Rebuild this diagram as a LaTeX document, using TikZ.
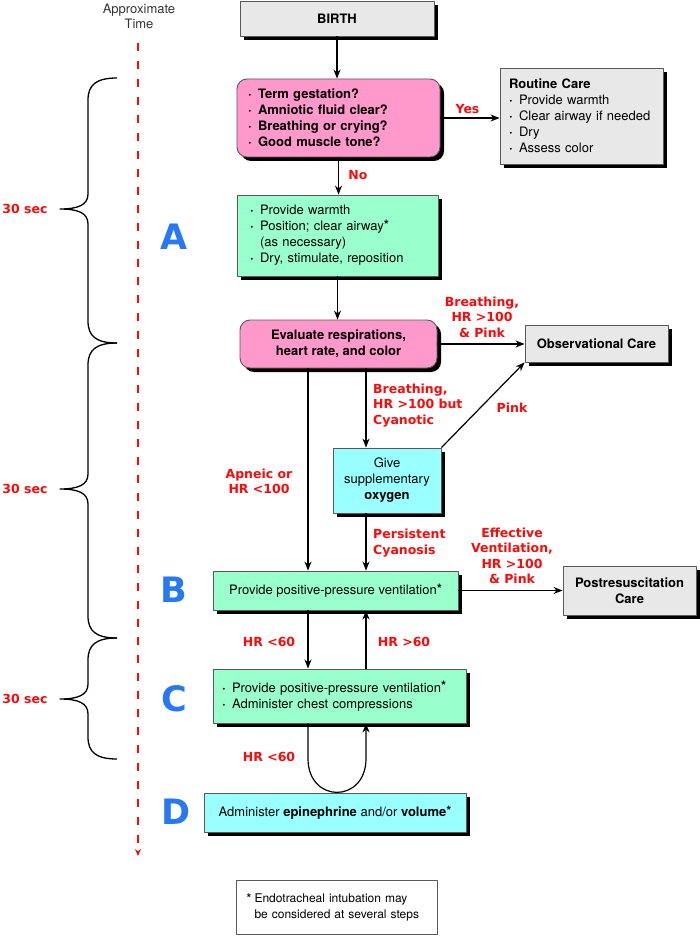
\documentclass[tikz,border=0pt]{standalone}
\usepackage{fontspec}
\setmainfont{TeX Gyre Heros}
\newfontfamily\heavyfont{DejaVu Sans}
\usepackage{xcolor}
\usepackage{tikz}
\usetikzlibrary{arrows.meta,shadows}

\definecolor{qpink}{RGB}{255,153,204}
\definecolor{stepgreen}{RGB}{153,255,204}
\definecolor{oxcyan}{RGB}{153,255,255}
\definecolor{cardgray}{RGB}{232,232,232}
\definecolor{labred}{RGB}{250,10,10}
\definecolor{letblue}{RGB}{40,120,245}

\newcommand{\bodysize}{\fontsize{13}{16}\selectfont}
\newcommand{\bdot}{\makebox[10pt][l]{\textbf{\textperiodcentered}}}
\newcommand{\fnmark}{\raisebox{1.5pt}{\textbf{*}}}

\begin{document}
\begin{tikzpicture}[x=1pt, y=-1pt, line join=round, font=\bodysize,
  box/.style={draw=black!65, line width=0.9pt,
    drop shadow={shadow xshift=4pt, shadow yshift=-4pt, opacity=1, fill=black}},
  graybox/.style={box, fill=cardgray},
  pinkbox/.style={box, fill=qpink, rounded corners=10pt},
  greenbox/.style={box, fill=stepgreen},
  cyanbox/.style={box, fill=oxcyan},
  boldtext/.style={font=\bodysize\bfseries},
  flow/.style={-{Stealth[length=9pt,width=7pt]}, line width=1.2pt},
  redlab/.style={text=labred, inner sep=0pt,
    font=\heavyfont\bfseries\fontsize{12.5}{15.5}\selectfont},
  steplet/.style={text=letblue, inner sep=0pt,
    font=\heavyfont\bfseries\fontsize{35}{35}\selectfont},
  brace line/.style={line width=1.3pt},
]
\useasboundingbox (0,0) rectangle (700,936);

%---------------- columns ----------------%
\coordinate (colL) at (308,0);   % left down line
\coordinate (colR) at (366,0);   % right down line

%---------------- time axis ----------------%
\node[text=black!80, align=center, font=\fontsize{13}{15}\selectfont]
  (timeTitle) at (139,16) {Approximate\\ Time};
\coordinate (tTop) at (138,43);
\coordinate (tBot) at (138,856);
\draw[labred, line width=1.6pt, dash pattern=on 8pt off 10pt,
  -{Stealth[length=7pt,width=6pt]}] (tTop) -- (tBot);

% braces + 30 sec
\foreach \ya/\ym/\yb [count=\i] in {78/209/343, 343/489/638, 638/699/759} {
  \draw[brace line] (117,\ya) .. controls (96,\ya) and (88,\ya+7) .. (88,\ya+22)
    -- (88,\ym-15) .. controls (88,\ym-4) and (78,\ym) .. (60,\ym)
    .. controls (78,\ym) and (88,\ym+4) .. (88,\ym+15)
    -- (88,\yb-22) .. controls (88,\yb-7) and (96,\yb) .. (117,\yb);
  \node[redlab] (sec\i) at (25,\ym) {30 sec};
}

% step letters
\foreach \lt/\lx/\ly in {A/174/237, B/174/590, C/174/699, D/176/812}
  \node[steplet] (step\lt) at (\lx,\ly) {\lt};

%---------------- boxes ----------------%
\node[graybox, boldtext, minimum width=194pt, minimum height=35pt]
  (birth) at (337,18.5) {BIRTH};
\node[pinkbox, boldtext, minimum width=203pt, minimum height=78pt,
  text width=181pt, inner xsep=11pt, align=left] (quest) at (338.5,118)
  {\bdot Term gestation?\\ \bdot Amniotic fluid clear?\\
   \bdot Breathing or crying?\\ \bdot Good muscle tone?};
\node[graybox, minimum width=163pt, minimum height=96pt,
  text width=145pt, inner xsep=9pt, align=left] (routine) at (581.5,116)
  {\textbf{Routine Care}\\ \bdot Provide warmth\\ \bdot Clear airway if needed\\
   \bdot Dry\\ \bdot Assess color};
\node[greenbox, minimum width=201pt, minimum height=81pt,
  text width=175pt, inner xsep=13pt, align=left] (warm) at (337.5,235.5)
  {\bdot Provide warmth\\ \bdot Position; clear airway\fnmark\\
   \hspace*{10pt}(as necessary)\\ \bdot Dry, stimulate, reposition};
\node[pinkbox, boldtext, minimum width=197pt, minimum height=48pt, align=center]
  (eval) at (338.5,344) {Evaluate respirations,\\ heart rate, and color};
\node[graybox, boldtext, minimum width=143pt, minimum height=37pt]
  (obs) at (596.5,343.5) {Observational Care};
\node[cyanbox, minimum width=108pt, minimum height=65pt, align=center]
  (oxy) at (387,480.5) {Give\\ supplementary\\ \textbf{oxygen}};
\node[greenbox, minimum width=245pt, minimum height=39pt]
  (ppv) at (335.5,590.5) {Provide positive-pressure ventilation\fnmark};
\node[graybox, boldtext, minimum width=133pt, minimum height=49pt, align=center]
  (post) at (629.5,590.5) {Postresuscitation\\ Care};
\node[greenbox, minimum width=253pt, minimum height=54pt,
  text width=235pt, inner xsep=9pt, align=left] (comp) at (339.5,696)
  {\bdot Provide positive-pressure ventilation\fnmark\\
   \bdot Administer chest compressions};
\node[cyanbox, minimum width=262pt, minimum height=39pt]
  (epi) at (335,812.5)
  {Administer \textbf{epinephrine} and/or \textbf{volume}\fnmark};
\node[draw=black!65, line width=0.9pt, fill=white, minimum width=201pt,
  minimum height=54pt, text width=180pt, inner xsep=10.5pt, align=left,
  font=\fontsize{12}{16.5}\selectfont] (note) at (336.5,907.5)
  {\makebox[8pt][l]{\textbf{*}}Endotracheal intubation may\\
   \hspace*{8pt}be considered at several steps};

%---------------- connectors ----------------%
\draw[flow] (birth.south) -- (birth.south |- quest.north);
\draw[flow] (quest.east) -- (quest.east -| routine.west);
\draw[flow] (quest.south) -- (quest.south |- warm.north);
\draw[flow] (warm.south) -- (warm.south |- eval.north);
\draw[flow] (eval.east) -- (eval.east -| obs.west);
\draw[flow] (eval.south -| colR) -- (oxy.north -| colR);
\draw[flow] (eval.south -| colL) -- (ppv.north -| colL);
\draw[flow] (oxy.north east) -- (obs.south west);
\draw[flow] (oxy.south -| colR) -- (ppv.north -| colR);
\draw[flow] (ppv.east) -- (ppv.east -| post.west);
\draw[flow] (ppv.south -| colL) -- (comp.north -| colL);
\draw[flow] (comp.north -| colR) -- (ppv.south -| colR);
\draw[flow] (comp.south -| colL) -- ++(0,35)
  to[out=-90, in=-90, looseness=2] ++(58,0) -- (comp.south -| colR);

%---------------- red labels ----------------%
\node[redlab] (lYes) at (467.5,109) {Yes};
\node[redlab] (lNo) at (358,175) {No};
\node[redlab, align=center] (lGood) at (482,317) {Breathing,\\ HR >100\\ \& Pink};
\node[redlab, align=left, anchor=west] (lCyan) at (373,405.5)
  {Breathing,\\ HR >100 but\\ Cyanotic};
\node[redlab] (lPink) at (512,408) {Pink};
\node[redlab, align=center] (lApnea) at (259,481.5) {Apneic or\\ HR <100};
\node[redlab, align=left, anchor=west] (lPersist) at (373,543)
  {Persistent\\ Cyanosis};
\node[redlab, align=center] (lEffect) at (512,556)
  {Effective\\ Ventilation,\\ HR >100\\ \& Pink};
\node[redlab] (lDown) at (269,642) {HR <60};
\node[redlab] (lUp) at (404,642) {HR >60};
\node[redlab] (lLoop) at (269,757) {HR <60};

\end{tikzpicture}
\end{document}
